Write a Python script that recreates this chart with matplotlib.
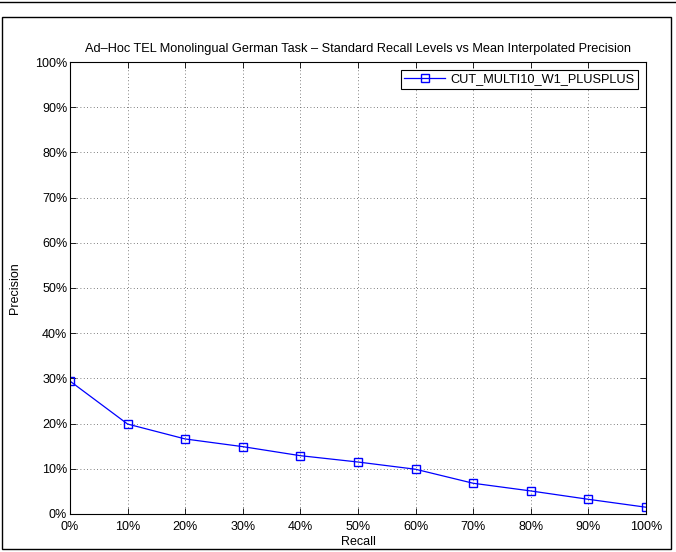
import matplotlib
matplotlib.use("Agg")
import matplotlib.pyplot as plt
from matplotlib.patches import Rectangle
from matplotlib.lines import Line2D

plt.rcParams['font.family'] = ['Liberation Sans', 'DejaVu Sans']

recall = [0, 10, 20, 30, 40, 50, 60, 70, 80, 90, 100]
precision = [29.4, 19.9, 16.6, 14.9, 12.9, 11.5, 9.9, 6.8, 5.1, 3.25, 1.5]
run_name = 'CUT_MULTI10_W1_PLUSPLUS'
ticks = list(range(0, 101, 10))
tick_labels = [str(t) + '%' for t in ticks]

fig = plt.figure(figsize=(6.76, 5.52), dpi=100)
ax = fig.add_axes([70 / 676, 38 / 552, 576 / 676, 452 / 552])

# outer frame and top rule
fig.patches.append(Rectangle((2 / 676, 3 / 552), 669 / 676, 532 / 552,
                             transform=fig.transFigure, fill=False,
                             edgecolor='black', linewidth=1.0))
fig.lines.append(Line2D([0, 1], [1 - 2 / 552, 1 - 2 / 552],
                        transform=fig.transFigure, color='black', linewidth=1.0))

ax.plot(recall, precision, color='blue', marker='s', markersize=6,
        markerfacecolor='none', markeredgecolor='blue', linewidth=0.9,
        label=run_name)

ax.set_xlim(0, 100)
ax.set_ylim(0, 100)
ax.set_xticks(ticks)
ax.set_xticklabels(tick_labels, fontsize=9)
ax.set_yticks(ticks)
ax.set_yticklabels(tick_labels, fontsize=9)
ax.tick_params(axis='x', pad=5)
ax.tick_params(direction='in', top=True, right=True, length=4, width=0.6)
ax.tick_params(axis='y', pad=2)
ax.grid(True, linestyle=(0, (1, 3)), color='#555555', linewidth=0.6)
for s in ax.spines.values():
    s.set_linewidth(0.8)

ax.set_title('Ad\u2013Hoc TEL Monolingual German Task \u2013 Standard Recall Levels vs Mean Interpolated Precision',
             fontsize=9.2, pad=7)
ax.set_xlabel('Recall', fontsize=9, labelpad=2)
ax.set_ylabel('Precision', fontsize=9, labelpad=10)

leg = ax.legend(loc='upper right', fontsize=9.2, fancybox=False, framealpha=1,
                edgecolor='black', borderaxespad=0.6, handlelength=3.2,
                borderpad=0.3, handletextpad=0.4)
leg.get_frame().set_linewidth(0.8)

fig.savefig('out.png', dpi=100)
